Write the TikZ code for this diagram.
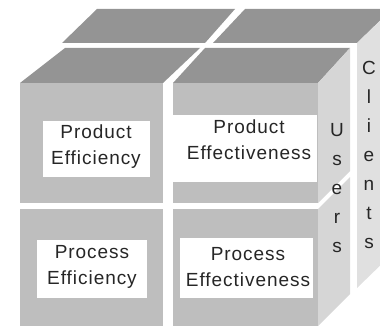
\documentclass[tikz,border=0pt]{standalone}
\usepackage{fontspec}
\setmainfont{Liberation Sans}
\newfontfamily\cellfont[LetterSpace=5]{Liberation Sans}
\definecolor{topgray}{RGB}{148,148,148}
\definecolor{frontgray}{RGB}{190,190,190}
\definecolor{sidegray}{RGB}{214,214,214}
\definecolor{backgray}{RGB}{224,224,224}
\begin{document}
\begin{tikzpicture}[
                x=1pt, y=-1pt,
                topface/.style={fill=topgray},
                frontface/.style={fill=frontgray},
                sideface/.style={fill=sidegray},
                cellbox/.style={fill=white},
                celltext/.style={inner sep=0pt, align=center, text=black!85,
                    font=\cellfont\fontsize{19}{26}\selectfont},
                letters/.style={inner sep=0pt, align=center, text=black!85,
                    font=\fontsize{19}{29}\selectfont},
            ]
            \clip (0,0) rectangle (380,326);
            % back row
            \fill[topface] (62,43) -- (205,43) -- (235,9) -- (97,9) -- cycle;
            \fill[topface] (213,43) -- (357,43) -- (392,9) -- (245,9) -- cycle;
            \fill[backgray] (357,43) -- (392,9) -- (392,254) -- (357,288) -- cycle;
            % front row, tops
            \fill[topface] (20,83) -- (163,83) -- (200,48) -- (65,48) -- cycle;
            \fill[topface] (173,83) -- (318,83) -- (350,48) -- (205,48) -- cycle;
            % front faces
            \fill[frontface] (20,83) rectangle (163,203);
            \fill[frontface] (173,83) rectangle (318,203);
            \fill[frontface] (20,209) rectangle (163,326);
            \fill[frontface] (173,209) rectangle (318,326);
            % side faces
            \fill[sideface] (318,83) -- (350,48) -- (350,171) -- (318,203) -- cycle;
            \fill[sideface] (318,209) -- (350,177) -- (350,294) -- (318,326) -- cycle;
            % boxes
            \fill[cellbox] (43,121) rectangle (150,177);
            \fill[cellbox] (173,115) rectangle (317,182);
            \fill[cellbox] (37,240) rectangle (147,298);
            \fill[cellbox] (180,238) rectangle (313,298);
            \node[celltext] (prodeffic) at (96,147) {Product\\Efficiency};
            \node[celltext] (prodeffect) at (249,140) {Product\\Effectiveness};
            \node[celltext] (proceffic) at (92,267) {Process\\Efficiency};
            \node[celltext] (proceffect) at (248,267) {Process\\Effectiveness};
            \node[letters] (users) at (337,188) {U\\s\\e\\r\\s};
            \node[letters] (clients) at (369,155) {C\\l\\i\\e\\n\\t\\s};
            \end{tikzpicture}
\end{document}
